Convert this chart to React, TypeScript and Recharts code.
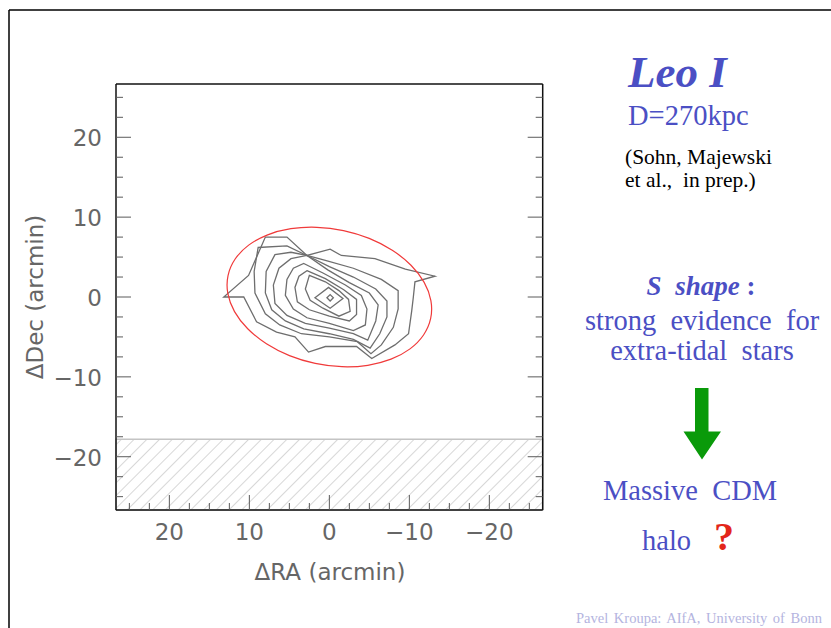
import { ScatterChart, Scatter, XAxis, YAxis, ReferenceArea } from "recharts";

const BLUE = "#4b4fc4";
const AXIS_GREY = "#5a5a5a";
const CONTOUR_GREY = "#6e6e6e";
const SP2 = "\u00a0\u00a0";

// both axes share the same ticks (arcmin), majors every 10
const axisTicks = [-25, -22.5, -20, -17.5, -15, -12.5, -10, -7.5, -5, -2.5, 0, 2.5, 5, 7.5, 10, 12.5, 15, 17.5, 20, 22.5, 25];
const axisLimit = 26.67;
const maskedDecTop = -17.8;

type Pair = [number, number]; // [dRA, dDec]

const contour1: Pair[] = [
  [2.8, 5.2], [-0.1, 6.0], [-1.5, 5.2], [-5.7, 4.8], [-9.5, 3.5], [-13.2, 2.6], [-10.7, 1.9],
  [-10.5, 0], [-10.3, -1.7], [-9.9, -4.6], [-8.2, -6.0], [-5.3, -7.7], [-3.4, -6.2], [0.5, -6.2],
  [2.6, -6.9], [4.3, -5.0], [6.6, -4.4], [9.1, -3.1], [10.7, 0], [13.2, 0], [10.1, 2.7], [8.0, 7.5], [5.3, 7.5],
];
const contour2: Pair[] = [
  [2.8, 5.2], [0.5, 4.6], [-3.0, 3.6], [-6.5, 2.2], [-8.6, 0.8], [-8.6, -1.5], [-8.0, -3.8], [-6.5, -6.0],
  [-5.2, -7.1], [-3.5, -5.6], [0, -5.0], [3.5, -4.6], [6.2, -3.5], [8.0, -2.1], [9.3, 0.5], [9.4, 3.2], [8.9, 6.2], [5.3, 6.4],
];
const contour3: Pair[] = [
  [2.8, 5.2], [0, 3.8], [-3.0, 2.5], [-5.8, 1.0], [-7.2, -0.5], [-7.2, -2.5], [-6.3, -4.6], [-5.1, -6.4],
  [-3.0, -5.3], [0, -4.6], [3.2, -4.0], [5.5, -3.0], [7.2, -1.6], [8.0, 0.5], [7.9, 3.2], [6.8, 5.3], [4.8, 5.6],
];
const contour4: Pair[] = [
  [2.8, 5.2], [0.2, 3.4], [-2.5, 1.8], [-5.0, 0.5], [-6.1, -1.0], [-5.8, -3.0], [-4.8, -5.4], [-3.0, -4.6],
  [0, -3.9], [3.0, -3.3], [5.3, -2.3], [6.8, -0.8], [7.0, 1.5], [6.3, 3.6], [4.8, 4.8],
];
const contour5: Pair[] = [
  [3.2, 4.2], [0.8, 3.0], [-2.0, 1.5], [-4.0, 0.2], [-4.7, -1.5], [-4.5, -3.5], [-3.0, -4.2], [0, -3.3],
  [2.8, -2.6], [4.5, -1.5], [5.5, 0.2], [5.3, 2.2], [4.5, 3.6],
];
const contour6: Pair[] = [
  [2.8, 3.3], [0.5, 2.3], [-1.8, 0.9], [-3.4, -0.3], [-3.4, -2.2], [-2.5, -3.0], [0, -2.4], [2.5, -1.6],
  [4.0, -0.6], [4.3, 1.2], [3.8, 2.6],
];
const contour7: Pair[] = [
  [2.5, 2.7], [0.5, 1.9], [-1.2, 0.8], [-2.4, -0.3], [-2.6, -1.8], [-1.2, -2.4], [0.8, -1.4], [2.4, -0.4], [3.0, 1.0],
];
const contour8: Pair[] = [[1.8, -0.1], [0.1, 1.2], [-1.7, -0.2], [-0.1, -1.4]];
const contour9: Pair[] = [[0.3, -0.1], [-0.1, 0.3], [-0.5, -0.1], [-0.1, -0.5]];

const contours = [contour1, contour2, contour3, contour4, contour5, contour6, contour7, contour8, contour9];

// tidal ellipse
const tidalEllipse: Pair[] = [
  [12.81, 2.72], [11.91, 4.81], [10.2, 6.57], [7.8, 7.87], [4.86, 8.65], [1.59, 8.83], [-1.79, 8.41],
  [-5.04, 7.42], [-7.96, 5.92], [-10.32, 4.02], [-11.99, 1.85], [-12.84, -0.45], [-12.81, -2.72],
  [-11.91, -4.81], [-10.2, -6.57], [-7.8, -7.87], [-4.86, -8.65], [-1.59, -8.83], [1.79, -8.41],
  [5.04, -7.42], [7.96, -5.92], [10.32, -4.02], [11.99, -1.85], [12.84, 0.45],
];

const toPoints = (pairs: Pair[]) => pairs.map(([ra, dec]) => ({ ra, dec }));

const isMajor = (v: number) => v % 10 === 0;
const fmt = (v: number) => (v < 0 ? `\u2212${-v}` : `${v}`);
const tickFont = { fontFamily: "DejaVu Sans", fontSize: 23, fill: "#666" };

const NoDot = () => <g />;

function BottomTick({ x, y, payload }: any) {
  const v = payload.value;
  return (
    <g>
      <line x1={x} y1={y} x2={x} y2={y - (isMajor(v) ? 15 : 7)} stroke={AXIS_GREY} />
      {isMajor(v) && (
        <text x={x} y={y + 30} textAnchor="middle" {...tickFont}>
          {fmt(v)}
        </text>
      )}
    </g>
  );
}

function TopTick({ x, y, payload }: any) {
  return <line x1={x} y1={y} x2={x} y2={y + (isMajor(payload.value) ? 15 : 7)} stroke={AXIS_GREY} />;
}

function LeftTick({ x, y, payload }: any) {
  const v = payload.value;
  return (
    <g>
      <line x1={x} y1={y} x2={x + (isMajor(v) ? 15 : 7)} y2={y} stroke={AXIS_GREY} />
      {isMajor(v) && (
        <text x={x - 14} y={y + 9} textAnchor="end" {...tickFont}>
          {fmt(v)}
        </text>
      )}
    </g>
  );
}

function RightTick({ x, y, payload }: any) {
  return <line x1={x} y1={y} x2={x - (isMajor(payload.value) ? 15 : 7)} y2={y} stroke={AXIS_GREY} />;
}

const frameLine = { stroke: "#111", strokeWidth: 1.5 };

export default function App() {
  return (
    <div style={{ position: "absolute", left: 0, top: 0, width: 831, height: 628, background: "#fff" }}>
      <ScatterChart width={831} height={628} margin={{ top: 74, right: 278.3, bottom: 46, left: 56 }}>
        <XAxis
          xAxisId={0}
          dataKey="ra"
          type="number"
          reversed
          domain={[-axisLimit, axisLimit]}
          allowDataOverflow
          ticks={axisTicks}
          interval={0}
          height={72}
          tickSize={0}
          tickMargin={0}
          tickLine={false}
          axisLine={frameLine}
          tick={BottomTick}
        />
        <XAxis
          xAxisId="top"
          orientation="top"
          type="number"
          reversed
          domain={[-axisLimit, axisLimit]}
          allowDataOverflow
          ticks={axisTicks}
          interval={0}
          height={10}
          tickSize={0}
          tickMargin={0}
          tickLine={false}
          axisLine={frameLine}
          tick={TopTick}
        />
        <YAxis
          yAxisId={0}
          dataKey="dec"
          type="number"
          domain={[-axisLimit, axisLimit]}
          allowDataOverflow
          ticks={axisTicks}
          interval={0}
          width={60}
          tickSize={0}
          tickMargin={0}
          tickLine={false}
          axisLine={frameLine}
          tick={LeftTick}
        />
        <YAxis
          yAxisId="right"
          orientation="right"
          type="number"
          domain={[-axisLimit, axisLimit]}
          allowDataOverflow
          ticks={axisTicks}
          interval={0}
          width={10}
          tickSize={0}
          tickMargin={0}
          tickLine={false}
          axisLine={frameLine}
          tick={RightTick}
        />
        <ReferenceArea
          y1={-axisLimit}
          y2={maskedDecTop}
          fill="url(#hatch)"
          fillOpacity={1}
          stroke="#c4c4c4"
          strokeWidth={1.5}
        />
        {contours.map((c, i) => (
          <Scatter
            key={i}
            data={toPoints(c)}
            shape={NoDot}
            line={{ stroke: CONTOUR_GREY, strokeWidth: 1.3 }}
            lineType="joint"
            lineJointType="linearClosed"
            isAnimationActive={false}
          />
        ))}
        <Scatter
          data={toPoints(tidalEllipse)}
          shape={NoDot}
          line={{ stroke: "#f03a3a", strokeWidth: 1.2 }}
          lineType="joint"
          lineJointType="basisClosed"
          isAnimationActive={false}
        />
      </ScatterChart>

      <svg width={831} height={628} style={{ position: "absolute", left: 0, top: 0, pointerEvents: "none" }}>
        <defs>
          <pattern id="hatch" patternUnits="userSpaceOnUse" width="9" height="9" patternTransform="rotate(45)">
            <line x1="0" y1="0" x2="0" y2="9" stroke="#b0b0b0" strokeWidth="1" />
          </pattern>
        </defs>
        <line x1={9} y1={10} x2={831} y2={10} stroke="#000" strokeWidth={1.5} />
        <line x1={9} y1={10} x2={9} y2={628} stroke="#000" strokeWidth={1.5} />

        <text x={330} y={580} textAnchor="middle" fontFamily="DejaVu Sans" fontSize={23} fill="#666">
          ΔRA (arcmin)
        </text>
        <text
          x={43}
          y={297}
          textAnchor="middle"
          transform="rotate(-90 43 297)"
          fontFamily="DejaVu Sans"
          fontSize={23}
          fill="#666"
        >
          ΔDec (arcmin)
        </text>

        <g fontFamily="Liberation Serif">
          <text x={628} y={87} fontSize={45} fontWeight="bold" fontStyle="italic" fill={BLUE}>
            Leo I
          </text>
          <text x={628} y={125} fontSize={28.5} fill={BLUE}>
            D=270kpc
          </text>
          <text x={625} y={164} fontSize={21.5} fill="#000">
            (Sohn, Majewski
          </text>
          <text x={625} y={187} fontSize={21.5} fill="#000">
            {`et al.,${SP2}in prep.)`}
          </text>
          <text x={701} y={295} textAnchor="middle" fontSize={27} fill={BLUE}>
            <tspan fontWeight="bold" fontStyle="italic">{`S${SP2}shape`}</tspan>
            <tspan fontWeight="bold">{"\u00a0:"}</tspan>
          </text>
          <text x={702} y={330} textAnchor="middle" fontSize={28.5} fill={BLUE}>
            {`strong${SP2}evidence${SP2}for`}
          </text>
          <text x={702} y={360} textAnchor="middle" fontSize={28.5} fill={BLUE}>
            {`extra-tidal${SP2}stars`}
          </text>
          <polygon
            points="695,388 708.5,388 708.5,431.5 721,431.5 702,459.5 683.5,431.5 695,431.5"
            fill="#0a9a0a"
          />
          <text x={690} y={500} textAnchor="middle" fontSize={28.5} fill={BLUE}>
            {`Massive${SP2}CDM`}
          </text>
          <text x={642} y={550} fontSize={28.5} fill={BLUE}>
            halo
          </text>
          <text x={714} y={550} fontSize={40} fontWeight="bold" fill="#e3261a">
            ?
          </text>
          <text x={822} y={623} textAnchor="end" fontSize={14.5} wordSpacing={2} fill="#b4b4e0">
            Pavel Kroupa: AIfA, University of Bonn
          </text>
        </g>
      </svg>
    </div>
  );
}
